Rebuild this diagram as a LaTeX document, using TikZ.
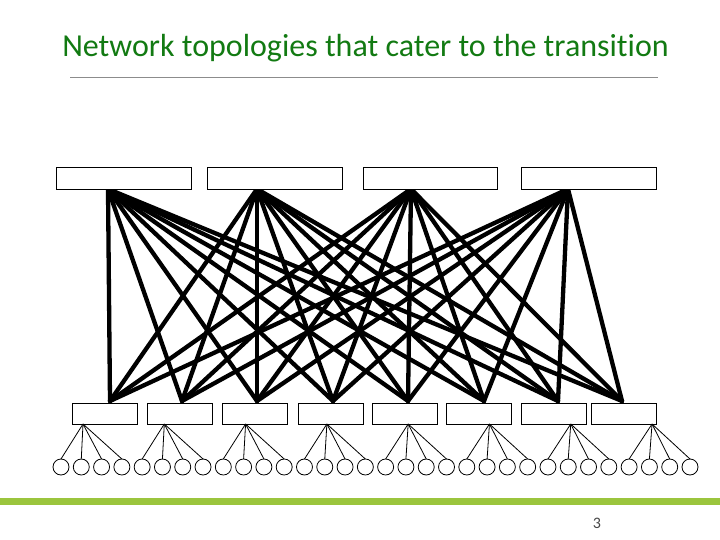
\documentclass[tikz,border=0pt]{standalone}
\usepackage{fontspec}
\setmainfont{Carlito}[RawFeature=-liga]
\definecolor{titlegreen}{RGB}{18,122,18}
\definecolor{bargreen}{RGB}{155,197,61}
\definecolor{rulegray}{RGB}{140,140,140}
\definecolor{numgray}{RGB}{70,70,70}
\begin{document}
\begin{tikzpicture}[x=1pt,y=-1pt,
  topbox/.style={draw,fill=white,line width=0.9pt,minimum width=135pt,minimum height=22pt,inner sep=0pt,outer sep=0pt},
  botbox/.style={draw,fill=white,line width=0.9pt,minimum width=65pt,minimum height=21pt,inner sep=0pt,outer sep=0pt},
  leaf/.style={draw,circle,fill=white,line width=0.8pt,minimum size=16pt,inner sep=0pt,outer sep=0pt},
  link/.style={line width=4.3pt,line cap=round},
  twig/.style={line width=0.8pt}]
\useasboundingbox (0,0) rectangle (720,540);

% title and rules
\node[anchor=base,font=\fontsize{32}{34}\selectfont,text=titlegreen,inner sep=0pt] (title) at (365.5,57) {Network topologies that cater to the transition};
\draw[rulegray,line width=0.75pt] (70,77) -- (658,77);
\fill[bargreen] (0,497.5) rectangle (720,505);
\node[anchor=base,font=\fontsize{16}{18}\selectfont,text=numgray,inner sep=0pt] (pagenum) at (597,528) {3};

% attachment points
\coordinate (tp1) at (108,189);
\coordinate (tp2) at (257,189);
\coordinate (tp3) at (411,189);
\coordinate (tp4) at (568,189);
\coordinate (bp1) at (110,401);
\coordinate (bp2) at (182,401);
\coordinate (bp3) at (257,401);
\coordinate (bp4) at (333,401);
\coordinate (bp5) at (408,401);
\coordinate (bp6) at (484,401);
\coordinate (bp7) at (558,401);
\coordinate (bp8) at (622,401);

% full mesh of thick links
\foreach \t in {1,...,4}{
  \foreach \b in {1,...,8}{
    \draw[link] (tp\t) -- (bp\b);
  }
}

% top boxes
\node[topbox] (T1) at (123.5,178) {};
\node[topbox] (T2) at (274.5,178) {};
\node[topbox,minimum width=134pt] (T3) at (430,178) {};
\node[topbox] (T4) at (588.5,178) {};

% bottom boxes
\foreach \b/\cx in {1/105,2/179.5,3/254.5,4/331,5/404.5,6/478.5,7/553.5,8/624}{
  \node[botbox] (B\b) at (\cx,413.5) {};
}

% leaves
\foreach \i in {0,...,31}{
  \pgfmathsetmacro{\lx}{61+20.29*\i}
  \node[leaf] (L\i) at (\lx,467) {};
}

% twigs from each bottom box to its four leaves
\foreach \g in {0,...,7}{
  \pgfmathsetmacro{\ox}{83+81.29*\g}
  \coordinate (O\g) at (\ox,424);
  \foreach \k in {0,...,3}{
    \pgfmathtruncatemacro{\li}{4*\g+\k}
    \draw[twig] (O\g) -- (L\li.north);
  }
}
\end{tikzpicture}
\end{document}
